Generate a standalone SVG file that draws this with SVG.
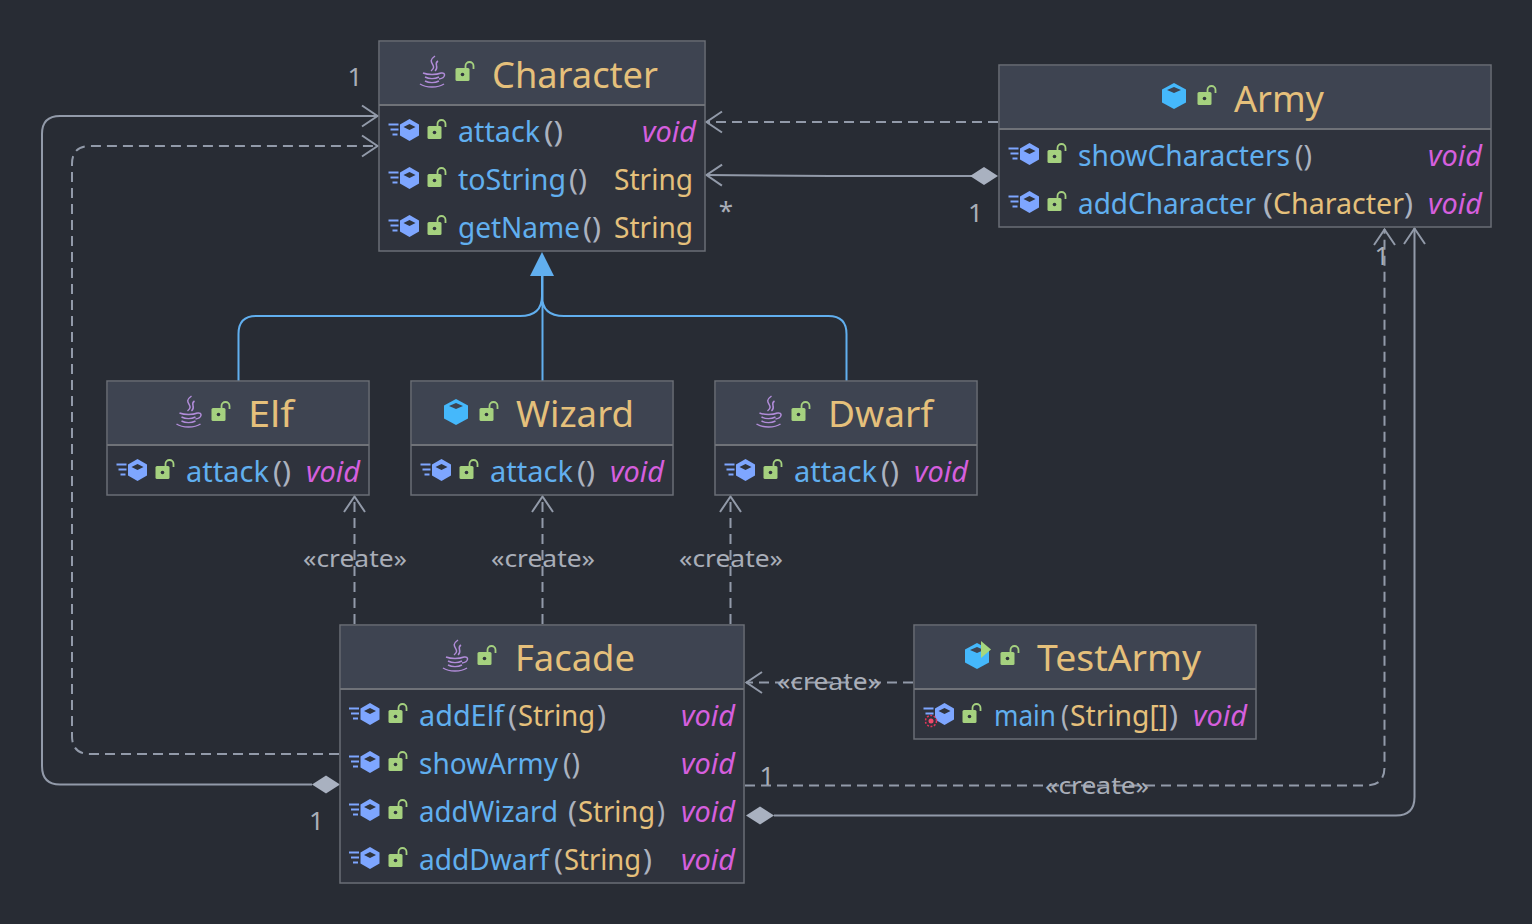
<svg xmlns="http://www.w3.org/2000/svg" width="1532" height="924" viewBox="0 0 1532 924">
<style>
text{font-family:"Noto Sans","Open Sans",sans-serif}
.box{fill:#2f333d;stroke:#6a6e76;stroke-width:1.5}
.hd{fill:#3e4451}
.sep{stroke:#6f7278;stroke-width:2;fill:none}
.t{font-size:36px;fill:#e5c07b}
.r{font-size:29px}
.m{fill:#61afef}
.p{fill:#abb2bf}
.y{fill:#e5c07b}
.v{fill:#d55fde;font-style:italic}
.c{fill:none;stroke:#929aa9;stroke-width:2}
.d{stroke-dasharray:10 6}
.g{fill:none;stroke:#61afef;stroke-width:2}
.l{font-size:24px;fill:#a9aeb8}
.n{font-size:26px;fill:#a9aeb8}
.dm{fill:#a9b1c0}
</style>
<defs>
<marker id="open" markerUnits="userSpaceOnUse" markerWidth="26" markerHeight="26" refX="22" refY="13" orient="auto"><path d="M6 2.500 L21.500 13 L6 23.500" fill="none" stroke="#929aa9" stroke-width="2"/></marker>
<g id="lock"><rect x="0" y="0" width="14" height="13" rx="1.500" fill="#a5d17f"/><circle cx="7" cy="6.500" r="1.800" fill="#2f333d"/><path d="M10 0 V-2 A4 4 0 0 1 18 -2 V1" fill="none" stroke="#a5d17f" stroke-width="1.800"/></g>
<g id="cube"><path d="M0 -13 L12 -6.500 V6.500 L0 13 L-12 6.500 V-6.500Z" fill="#45b8fb"/><path d="M0 -9 L7 -6 L0 -3 L-7 -6Z" fill="#3e4451"/></g>
<g id="meth"><path d="M0 -11 L9.500 -5.500 V5.500 L0 11 L-9.500 5.500 V-5.500Z" fill="#7ea6ff"/><path d="M0 -6 L6 -3 L0 0 L-6 -3Z" fill="#2f333d"/><path d="M-21 -5.500H-11M-19 -.5H-11M-17 4.500H-12" stroke="#7ea6ff" stroke-width="1.800" fill="none"/></g>
<g id="cup" fill="none" stroke="#b18cd9" stroke-width="1.500"><path d="M3 -16 C-7 -9 7 -7 -1 -1 M6 -11 C1 -8 8 -5 3 -1"/><path d="M-9 1 C-4 3 4 3 9 1 M-7 5 C-3 7 3 7 7 5 M-7 9 C-3 11 3 11 7 9 M-12 12 C-6 16 6 16 12 12 M9 1 C14 0 14 6 7 7"/></g>
</defs>
<rect width="1532" height="924" fill="#282c34"/>

<g id="connectors">
<path class="g" d="M238.500 381V334Q238.500 316 256 316H520Q542 316 542 296V276M846.500 381V334Q846.500 316 828.500 316H564Q542 316 542 296V276M542.500 381V276"/>
<path d="M542 252L554 276H530Z" fill="#61afef"/>
<path class="c d" d="M998 122H706" marker-end="url(#open)"/>
<path class="c" d="M972 176H830L706 175" marker-end="url(#open)"/>
<path class="dm" d="M970 176L984 167L998 176L984 185Z"/>
<path class="c" d="M312 784.500H60Q42 784.500 42 766V134Q42 116 60 116H378" marker-end="url(#open)"/>
<path class="dm" d="M312 784.500L326 775.500L340 784.500L326 793.500Z"/>
<path class="c d" d="M339 754H90Q72 754 72 736V164Q72 146 90 146H378" marker-end="url(#open)"/>
<path class="c d" d="M354.500 624V496" marker-end="url(#open)"/>
<path class="c d" d="M542.500 624V496" marker-end="url(#open)"/>
<path class="c d" d="M730.500 624V496" marker-end="url(#open)"/>
<path class="c d" d="M913 682.500H746" marker-end="url(#open)"/>
<path class="c d" d="M745 785.500H1366Q1384.500 785.500 1384.500 767V229" marker-end="url(#open)"/>
<path class="c" d="M774 815.500H1396Q1414.500 815.500 1414.500 797V228" marker-end="url(#open)"/>
<path class="dm" d="M746 815.500L760 806.500L774 815.500L760 824.500Z"/>
<text class="n" x="355" y="86" text-anchor="middle">1</text>
<text class="n" x="975.500" y="222" text-anchor="middle">1</text>
<text class="n" x="726" y="220" text-anchor="middle">*</text>
<text class="n" x="1382" y="265" text-anchor="middle">1</text>
<text class="n" x="767" y="785" text-anchor="middle">1</text>
<text class="n" x="316.500" y="830" text-anchor="middle">1</text>
<text class="l" x="303" y="567" textLength="104" lengthAdjust="spacingAndGlyphs">«create»</text>
<text class="l" x="491" y="567" textLength="104" lengthAdjust="spacingAndGlyphs">«create»</text>
<text class="l" x="679" y="567" textLength="104" lengthAdjust="spacingAndGlyphs">«create»</text>
<text class="l" x="777" y="689.500" textLength="104" lengthAdjust="spacingAndGlyphs">«create»</text>
<text class="l" x="1045" y="793.500" textLength="104" lengthAdjust="spacingAndGlyphs">«create»</text>
</g>

<g id="Character">
<rect class="box" x="379" y="41" width="326" height="210"/>
<path class="hd" d="M380 42H704V104H380Z"/><path class="sep" d="M379 105H705"/>
<use href="#cup" x="432" y="72"/><use href="#lock" x="455.500" y="68"/>
<text class="t" x="492" y="87.500" textLength="166" lengthAdjust="spacingAndGlyphs">Character</text>
<use href="#meth" x="409.500" y="130"/><use href="#lock" x="427.500" y="126"/>
<text class="r" y="142"><tspan class="m" x="458" textLength="82" lengthAdjust="spacingAndGlyphs">attack</tspan><tspan class="p" x="544" textLength="19" lengthAdjust="spacingAndGlyphs">()</tspan></text>
<text class="r v" x="642" y="142" textLength="54" lengthAdjust="spacingAndGlyphs">void</text>
<use href="#meth" x="409.500" y="178"/><use href="#lock" x="427.500" y="174"/>
<text class="r" y="190"><tspan class="m" x="458" textLength="108" lengthAdjust="spacingAndGlyphs">toString</tspan><tspan class="p" x="569" textLength="18" lengthAdjust="spacingAndGlyphs">()</tspan></text>
<text class="r y" x="614" y="190" textLength="79" lengthAdjust="spacingAndGlyphs">String</text>
<use href="#meth" x="409.500" y="226"/><use href="#lock" x="427.500" y="222"/>
<text class="r" y="238"><tspan class="m" x="458" textLength="122" lengthAdjust="spacingAndGlyphs">getName</tspan><tspan class="p" x="583" textLength="18" lengthAdjust="spacingAndGlyphs">()</tspan></text>
<text class="r y" x="614" y="238" textLength="79" lengthAdjust="spacingAndGlyphs">String</text>
</g>

<g id="Army">
<rect class="box" x="999" y="65" width="492" height="162"/>
<path class="hd" d="M1000 66H1490V128H1000Z"/><path class="sep" d="M999 129H1491"/>
<use href="#cube" x="1174" y="96"/><use href="#lock" x="1197.500" y="92"/>
<text class="t" x="1234" y="111.500" textLength="90" lengthAdjust="spacingAndGlyphs">Army</text>
<use href="#meth" x="1029.500" y="154"/><use href="#lock" x="1047.500" y="150"/>
<text class="r" y="166"><tspan class="m" x="1078" textLength="212" lengthAdjust="spacingAndGlyphs">showCharacters</tspan><tspan class="p" x="1295" textLength="17" lengthAdjust="spacingAndGlyphs">()</tspan></text>
<text class="r v" x="1428" y="166" textLength="54" lengthAdjust="spacingAndGlyphs">void</text>
<use href="#meth" x="1029.500" y="202"/><use href="#lock" x="1047.500" y="198"/>
<text class="r" y="214"><tspan class="m" x="1078" textLength="178" lengthAdjust="spacingAndGlyphs">addCharacter</tspan><tspan class="p" x="1263" textLength="10" lengthAdjust="spacingAndGlyphs">(</tspan><tspan class="y" x="1273" textLength="131" lengthAdjust="spacingAndGlyphs">Character</tspan><tspan class="p" x="1404" textLength="9" lengthAdjust="spacingAndGlyphs">)</tspan></text>
<text class="r v" x="1428" y="214" textLength="54" lengthAdjust="spacingAndGlyphs">void</text>
</g>

<g id="Elf">
<rect class="box" x="107" y="381" width="262" height="114"/>
<path class="hd" d="M108 382H368V444H108Z"/><path class="sep" d="M107 445H369"/>
<use href="#cup" x="188.500" y="412"/><use href="#lock" x="211.500" y="408"/>
<text class="t" x="248" y="426.500" textLength="46" lengthAdjust="spacingAndGlyphs">Elf</text>
<use href="#meth" x="137.500" y="470"/><use href="#lock" x="155.500" y="466"/>
<text class="r" y="482"><tspan class="m" x="186" textLength="83" lengthAdjust="spacingAndGlyphs">attack</tspan><tspan class="p" x="273" textLength="18" lengthAdjust="spacingAndGlyphs">()</tspan></text>
<text class="r v" x="306" y="482" textLength="54" lengthAdjust="spacingAndGlyphs">void</text>
</g>

<g id="Wizard">
<rect class="box" x="411" y="381" width="262" height="114"/>
<path class="hd" d="M412 382H672V444H412Z"/><path class="sep" d="M411 445H673"/>
<use href="#cube" x="456" y="412"/><use href="#lock" x="479.500" y="408"/>
<text class="t" x="516" y="426.500" textLength="118" lengthAdjust="spacingAndGlyphs">Wizard</text>
<use href="#meth" x="441.500" y="470"/><use href="#lock" x="459.500" y="466"/>
<text class="r" y="482"><tspan class="m" x="490" textLength="83" lengthAdjust="spacingAndGlyphs">attack</tspan><tspan class="p" x="577" textLength="18" lengthAdjust="spacingAndGlyphs">()</tspan></text>
<text class="r v" x="610" y="482" textLength="54" lengthAdjust="spacingAndGlyphs">void</text>
</g>

<g id="Dwarf">
<rect class="box" x="715" y="381" width="262" height="114"/>
<path class="hd" d="M716 382H976V444H716Z"/><path class="sep" d="M715 445H977"/>
<use href="#cup" x="768.500" y="412"/><use href="#lock" x="791.500" y="408"/>
<text class="t" x="828" y="426.500" textLength="105" lengthAdjust="spacingAndGlyphs">Dwarf</text>
<use href="#meth" x="745.500" y="470"/><use href="#lock" x="763.500" y="466"/>
<text class="r" y="482"><tspan class="m" x="794" textLength="83" lengthAdjust="spacingAndGlyphs">attack</tspan><tspan class="p" x="881" textLength="18" lengthAdjust="spacingAndGlyphs">()</tspan></text>
<text class="r v" x="914" y="482" textLength="54" lengthAdjust="spacingAndGlyphs">void</text>
</g>

<g id="Facade">
<rect class="box" x="340" y="625" width="404" height="258"/>
<path class="hd" d="M341 626H743V688H341Z"/><path class="sep" d="M340 689H744"/>
<use href="#cup" x="455" y="656"/><use href="#lock" x="477.500" y="652"/>
<text class="t" x="515" y="671" textLength="120" lengthAdjust="spacingAndGlyphs">Facade</text>
<use href="#meth" x="370" y="714"/><use href="#lock" x="388.500" y="710"/>
<text class="r" y="726"><tspan class="m" x="419" textLength="85" lengthAdjust="spacingAndGlyphs">addElf</tspan><tspan class="p" x="508" textLength="9" lengthAdjust="spacingAndGlyphs">(</tspan><tspan class="y" x="518" textLength="77" lengthAdjust="spacingAndGlyphs">String</tspan><tspan class="p" x="597" textLength="9" lengthAdjust="spacingAndGlyphs">)</tspan></text>
<text class="r v" x="681" y="726" textLength="54" lengthAdjust="spacingAndGlyphs">void</text>
<use href="#meth" x="370" y="762"/><use href="#lock" x="388.500" y="758"/>
<text class="r" y="774"><tspan class="m" x="419" textLength="139" lengthAdjust="spacingAndGlyphs">showArmy</tspan><tspan class="p" x="563" textLength="17" lengthAdjust="spacingAndGlyphs">()</tspan></text>
<text class="r v" x="681" y="774" textLength="54" lengthAdjust="spacingAndGlyphs">void</text>
<use href="#meth" x="370" y="810"/><use href="#lock" x="388.500" y="806"/>
<text class="r" y="822"><tspan class="m" x="419" textLength="139" lengthAdjust="spacingAndGlyphs">addWizard</tspan><tspan class="p" x="568" textLength="9" lengthAdjust="spacingAndGlyphs">(</tspan><tspan class="y" x="578" textLength="77" lengthAdjust="spacingAndGlyphs">String</tspan><tspan class="p" x="657" textLength="8" lengthAdjust="spacingAndGlyphs">)</tspan></text>
<text class="r v" x="681" y="822" textLength="54" lengthAdjust="spacingAndGlyphs">void</text>
<use href="#meth" x="370" y="858"/><use href="#lock" x="388.500" y="854"/>
<text class="r" y="870"><tspan class="m" x="419" textLength="130" lengthAdjust="spacingAndGlyphs">addDwarf</tspan><tspan class="p" x="554" textLength="9" lengthAdjust="spacingAndGlyphs">(</tspan><tspan class="y" x="564" textLength="77" lengthAdjust="spacingAndGlyphs">String</tspan><tspan class="p" x="643" textLength="9" lengthAdjust="spacingAndGlyphs">)</tspan></text>
<text class="r v" x="681" y="870" textLength="54" lengthAdjust="spacingAndGlyphs">void</text>
</g>

<g id="TestArmy">
<rect class="box" x="914" y="625" width="342" height="114"/>
<path class="hd" d="M915 626H1255V688H915Z"/><path class="sep" d="M914 689H1256"/>
<use href="#cube" x="977" y="656"/><path d="M981 641L991 649.500L981 658Z" fill="#a6d77d"/><use href="#lock" x="1000.500" y="652"/>
<text class="t" x="1037" y="671" textLength="164" lengthAdjust="spacingAndGlyphs">TestArmy</text>
<use href="#meth" x="944.500" y="714"/>
<circle cx="931" cy="721" r="5.500" fill="#2f333d" stroke="#e0355a" stroke-width="1.500" stroke-dasharray="2 1.500"/><circle cx="931" cy="721" r="2.500" fill="#ef4a6b"/>
<use href="#lock" x="962.500" y="710"/>
<text class="r" y="726"><tspan class="m" x="994" textLength="62" lengthAdjust="spacingAndGlyphs">main</tspan><tspan class="p" x="1061" textLength="8" lengthAdjust="spacingAndGlyphs">(</tspan><tspan class="y" x="1070" textLength="98" lengthAdjust="spacingAndGlyphs">String[]</tspan><tspan class="p" x="1169" textLength="9" lengthAdjust="spacingAndGlyphs">)</tspan></text>
<text class="r v" x="1193" y="726" textLength="54" lengthAdjust="spacingAndGlyphs">void</text>
</g>
</svg>
